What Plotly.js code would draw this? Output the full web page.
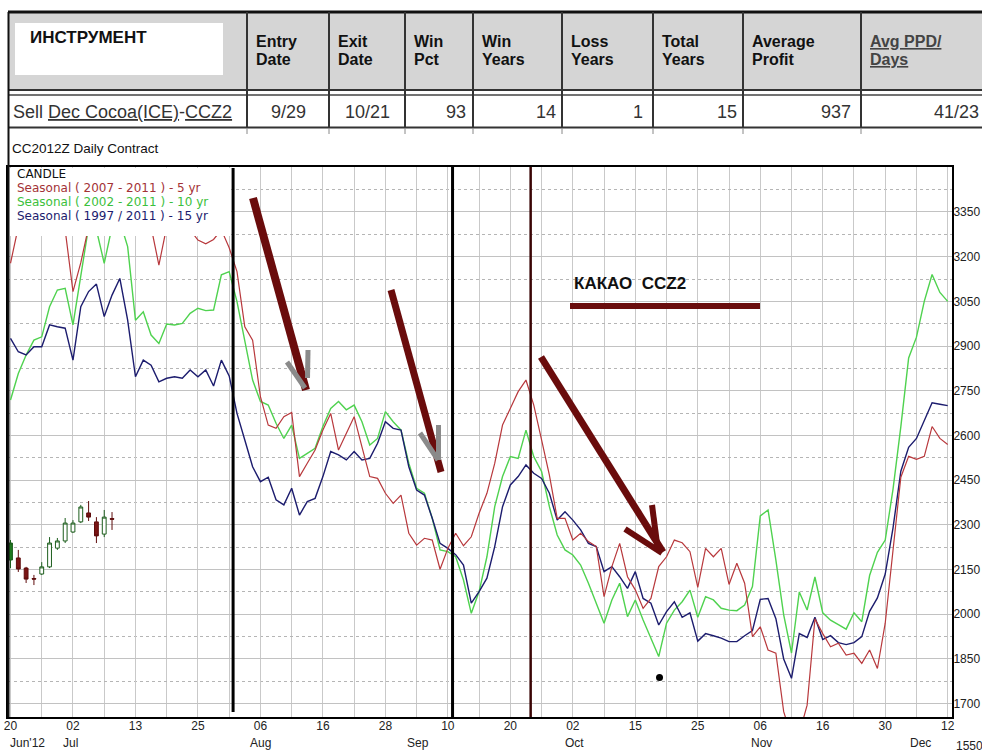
<!DOCTYPE html>
<html>
<head>
<meta charset="utf-8">
<script src="https://cdn.plot.ly/plotly-3.0.1.min.js"></script>
<style>
html,body{margin:0;padding:0;background:#fff;}
#chart{width:982px;height:755px;}
</style>
</head>
<body>
<div id="chart"></div>
<script>
// ---------- DATA ----------
// trading-day index from 20 Jun 2012 (0) to 12 Dec 2012 (120)
const dayIndex = Array.from({length: 121}, (_, k) => k);
const dayTickIdx = [0, 8, 16, 24, 32, 40, 48, 56, 64, 72, 80, 88, 96, 104, 112, 120];
const dayLabels = ["20", "02", "13", "25", "06", "16", "28", "10", "20", "02", "15", "25", "06", "16", "30", "12"];
const monthLabels = ["Jun'12", "Jul", "Aug", "Sep", "Oct", "Nov", "Dec"];
const monthPos = [-0.3, 7.7, 32, 52.2, 72.2, 96.1, 116.5];
const priceTicks = [1700, 1850, 2000, 2150, 2300, 2450, 2600, 2750, 2900, 3050, 3200, 3350];

const seasonal5 = [3178,3300,3330,3340,3330,3310,3300,3290,3083,3180,
  3300,3320,3330,3320,3310,3300,3320,3330,3300,3172,
  3300,3330,3320,3290,3256,3243,3258,3290,3230,3150,
  2965,2920,2730,2635,2624,2663,2677,2462,2507,2551,
  2618,2674,2551,2607,2663,2562,2462,2456,2406,2372,
  2400,2272,2232,2255,2249,2151,2221,2272,2230,2260,
  2339,2406,2506,2635,2691,2747,2786,2702,2585,2467,
  2322,2322,2249,2272,2244,2227,2059,2160,2238,2126,
  2082,2020,2053,2160,2193,2249,2240,2210,2090,2221,
  2193,2221,2100,2171,2104,1925,1958,1880,1869,1673,
  1590,1600,1695,1985,1935,1891,1903,1863,1869,1835,
  1880,1818,1970,2220,2460,2530,2520,2530,2630,2590,2570];

const seasonal10 = [2719,2808,2870,2920,2931,3032,3088,3094,2971,3133,
  3300,3290,3178,3300,3320,3234,2987,3015,2937,2909,
  2974,2971,2976,3010,3027,3019,3021,3139,3150,3049,
  2921,2786,2714,2702,2641,2590,2635,2523,2540,2557,
  2630,2691,2714,2686,2702,2646,2568,2590,2680,2646,
  2618,2507,2423,2406,2322,2216,2210,2193,2115,2003,
  2076,2193,2361,2462,2529,2523,2618,2529,2479,2361,
  2266,2216,2199,2165,2104,2037,1970,2048,2104,1992,
  2048,1981,1919,1858,1970,2014,2042,2081,1990,2059,
  2048,2020,2014,2012,2031,2093,2330,2350,2182,1998,
  1870,2075,2014,2125,2005,1980,1965,1950,2005,1975,
  2130,2208,2249,2420,2630,2860,2930,3050,3140,3080,3050];

const seasonal15 = [2926,2881,2870,2898,2898,2971,2965,2960,2853,3032,
  3083,3108,2999,3071,3127,2987,2797,2853,2836,2780,
  2792,2797,2792,2820,2797,2820,2766,2853,2800,2674,
  2585,2495,2445,2460,2384,2367,2423,2333,2378,2389,
  2462,2546,2535,2518,2546,2518,2523,2574,2646,2624,
  2618,2495,2417,2400,2322,2238,2221,2200,2165,2037,
  2076,2121,2227,2361,2434,2462,2501,2473,2456,2406,
  2316,2344,2316,2283,2238,2227,2143,2160,2126,2087,
  2143,2053,2037,1964,2009,2042,1990,2005,1910,1935,
  1928,1920,1908,1908,1928,1945,2050,2053,1985,1850,
  1785,1935,1922,1990,1915,1928,1905,1898,1905,1925,
  2010,2055,2135,2290,2480,2560,2590,2650,2710,2705,2700];

// daily candles, 20 Jun - 10 Jul 2012
const candleIdx   = [0,1,2,3,4,5,6,7,8,9,10,11,12,13];
const candleOpen  = [2182,2189,2155,2120,2135,2159,2222,2246,2276,2310,2340,2310,2269,2321];
const candleHigh  = [2249,2216,2159,2132,2175,2259,2256,2323,2316,2367,2380,2326,2350,2343];
const candleLow   = [2155,2142,2105,2098,2132,2155,2216,2239,2273,2306,2313,2239,2259,2283];
const candleClose = [2239,2152,2118,2118,2159,2239,2246,2306,2306,2360,2326,2263,2326,2319];

const markerIdx = [83.1];
const markerVal = [1788];

// table
const headerTop    = ["Entry","Exit","Win","Win","Loss","Total","Average","Avg PPD/"];
const headerBottom = ["Date","Date","Pct","Years","Years","Years","Profit","Days"];
const rowValues    = ["9/29","10/21","93","14","1","15","937","41/23"];
const instrumentTitle = "ИНСТРУМЕНТ";
const chartLabel = "CC2012Z Daily Contract";
const seriesNames = ["Seasonal ( 2007 - 2011 ) - 5 yr", "Seasonal ( 2002 - 2011 ) - 10 yr", "Seasonal ( 1997 / 2011 ) - 15 yr"];

// ---------- LAYOUT HELPERS (pixel -> paper) ----------
const L = 8, T = 167, W = 944, H = 550;
const px = p => (p - L) / W;
const py = q => (T + H - q) / H;
const FONT = "Liberation Sans, Arial, sans-serif";
const LFONT = "DejaVu Sans, Liberation Sans, sans-serif";

const RED = "#b8383c", GREEN = "#4fd24f", NAVY = "#1c1c6e";

const traces = [
  {x: dayIndex, y: seasonal10, type: "scatter", mode: "lines", line: {color: GREEN, width: 1.4}, hoverinfo: "skip"},
  {x: dayIndex, y: seasonal15, type: "scatter", mode: "lines", line: {color: NAVY, width: 1.4}, hoverinfo: "skip"},
  {x: dayIndex, y: seasonal5, type: "scatter", mode: "lines", line: {color: RED, width: 1.2}, hoverinfo: "skip"},
  {type: "candlestick", x: candleIdx.slice(0,1), open: candleOpen.slice(0,1), high: candleHigh.slice(0,1),
   low: candleLow.slice(0,1), close: candleClose.slice(0,1),
   increasing: {line: {color: "#1d5e1d", width: 1}, fillcolor: "#1f7a1f"},
   decreasing: {line: {color: "#6b0d0d", width: 1}, fillcolor: "#7a1414"}, hoverinfo: "skip"},
  {type: "candlestick", x: candleIdx.slice(1), open: candleOpen.slice(1), high: candleHigh.slice(1),
   low: candleLow.slice(1), close: candleClose.slice(1),
   increasing: {line: {color: "#1d5e1d", width: 1}, fillcolor: "#ffffff"},
   decreasing: {line: {color: "#5e0c0c", width: 1}, fillcolor: "#7a1414"}, hoverinfo: "skip"},
  {x: markerIdx, y: markerVal, type: "scatter", mode: "markers", marker: {color: "#000", size: 7}, hoverinfo: "skip"}
];

const shapes = [];
const ann = [];

// legend white box covering the top-left of the plot
shapes.push({type: "rect", xref: "paper", yref: "paper", x0: px(9), x1: px(231), y0: py(236), y1: py(168),
  fillcolor: "#ffffff", line: {width: 0}, layer: "above"});

// table background
shapes.push({type: "rect", xref: "paper", yref: "paper", x0: px(8), x1: px(990), y0: py(90), y1: py(12),
  fillcolor: "#d5d5d5", line: {width: 0}, layer: "above"});
shapes.push({type: "rect", xref: "paper", yref: "paper", x0: px(15), x1: px(223), y0: py(75), y1: py(23),
  fillcolor: "#ffffff", line: {width: 0}, layer: "above"});
// table lines
function hline(q, p0, p1, w, c) {
  shapes.push({type: "line", xref: "paper", yref: "paper", x0: px(p0), x1: px(p1), y0: py(q), y1: py(q),
    line: {color: c, width: w}, layer: "above"});
}
function vline(p, q0, q1, w, c) {
  shapes.push({type: "line", xref: "paper", yref: "paper", x0: px(p), x1: px(p), y0: py(q0), y1: py(q1),
    line: {color: c, width: w}, layer: "above"});
}
hline(12, 8, 990, 3, "#111");
hline(90, 8, 990, 2, "#333");
hline(95, 8, 990, 1.5, "#444");
hline(127.5, 8, 990, 2, "#333");
const colEdges = [247, 329, 405, 473, 562, 653, 743, 861];
colEdges.forEach(p => { vline(p, 12, 128, 2, "#333"); vline(p, 128, 134, 1, "#888"); });
vline(8.5, 12, 717, 2, "#111");

// vertical date lines in the plot
shapes.push({type: "line", xref: "x", yref: "paper", x0: 28.5, x1: 28.5, y0: py(712), y1: py(168), line: {color: "#000", width: 3}, layer: "above"});
shapes.push({type: "line", xref: "x", yref: "paper", x0: 56.6, x1: 56.6, y0: 0, y1: 1, line: {color: "#000", width: 3}, layer: "above"});
shapes.push({type: "line", xref: "x", yref: "paper", x0: 66.6, x1: 66.6, y0: 0, y1: 1, line: {color: "#3a0505", width: 2.5}, layer: "above"});

// hand-drawn arrows
function seg(p0, q0, p1, q1, w, c) {
  shapes.push({type: "line", xref: "paper", yref: "paper", x0: px(p0), y0: py(q0), x1: px(p1), y1: py(q1),
    line: {color: c, width: w}, layer: "above"});
}
const MAROON = "#6a0c0c", GREY = "#8a8a8a";
seg(253, 198, 306, 390, 8, MAROON);
seg(287, 362, 305, 388, 5, GREY);
seg(308, 350, 307.5, 378, 5, GREY);
seg(391, 290, 441, 472, 7, MAROON);
seg(420, 433, 438, 460, 5, GREY);
seg(438.5, 425, 438.5, 460, 5, GREY);
seg(541, 357, 663, 552, 7, MAROON);
seg(625, 529, 662, 553, 6, MAROON);
seg(652, 505, 658, 551, 6, MAROON);
seg(570, 306, 760, 306, 6, MAROON);

// ---------- ANNOTATIONS ----------
function txt(t, p, q, size, color, anchor, bold, fam) {
  ann.push({xref: "paper", yref: "paper", x: px(p), y: py(q), text: bold ? "<b>" + t + "</b>" : t,
    showarrow: false, xanchor: anchor || "left", yanchor: "middle",
    font: {family: fam || FONT, size: size, color: color || "#000"}});
}
txt(instrumentTitle, 28, 37, 17, "#111", "left", true);
headerTop.forEach((t, k) => {
  const link = (k === headerTop.length - 1);
  const s = link ? '<span style="text-decoration:underline">' + t + '</span>' : t;
  txt(s, colEdges[k] + 7, 41, 16, link ? "#444" : "#111", "left", true);
});
headerBottom.forEach((t, k) => {
  const link = (k === headerBottom.length - 1);
  const s = link ? '<span style="text-decoration:underline">' + t + '</span>' : t;
  txt(s, colEdges[k] + 7, 59, 16, link ? "#444" : "#111", "left", true);
});
txt('Sell <span style="text-decoration:underline">Dec Cocoa(ICE)</span>-<span style="text-decoration:underline">CCZ2</span>', 11, 112, 18, "#333", "left", false);
const rowRight = [null, null, 468, 558, 645, 739, 853, 981];
rowValues.forEach((t, k) => {
  if (k < 2) txt(t, (colEdges[k] + colEdges[k + 1]) / 2, 112, 18, "#333", "center", false);
  else txt(t, rowRight[k], 112, 18, "#333", "right", false);
});
txt(chartLabel, 10, 148, 13.5, "#111", "left", false);

txt("CANDLE", 15, 174, 12, "#111", "left", false, LFONT);
txt(seriesNames[0], 15, 188, 12, "#a33236", "left", false, LFONT);
txt(seriesNames[1], 15, 202, 12, "#3cc03c", "left", false, LFONT);
txt(seriesNames[2], 15, 216, 12, "#1c1c6e", "left", false, LFONT);

txt("КАКАО  CCZ2", 572, 283, 17, "#111", "left", true);

// month labels under the day ticks
monthLabels.forEach((m, k) => {
  ann.push({xref: "x", yref: "paper", x: monthPos[k], y: py(743), text: m, showarrow: false,
    xanchor: k === 0 ? "left" : "center", yanchor: "middle",
    font: {family: FONT, size: 12, color: "#222"}});
});
txt("1550", 954, 746, 12, "#222", "left", false);

const layout = {
  width: 982, height: 755,
  margin: {l: L, r: 982 - L - W, t: T, b: 755 - T - H, pad: 0},
  paper_bgcolor: "#ffffff", plot_bgcolor: "#ffffff",
  showlegend: false, hovermode: false,
  xaxis: {
    range: [-0.32, 120.55], tickmode: "array", tickvals: dayTickIdx, ticktext: dayLabels,
    showgrid: true, gridcolor: "#c9c9c9", gridwidth: 1,
    minor: {tickmode: "linear", tick0: 0, dtick: 4, showgrid: true, gridcolor: "#c9c9c9", gridwidth: 1},
    zeroline: false, showline: true, linecolor: "#000", linewidth: 2, mirror: true,
    ticks: "", ticklabelstandoff: -3, tickfont: {family: FONT, size: 12, color: "#222"},
    rangeslider: {visible: false}, fixedrange: true
  },
  yaxis: {
    side: "right", range: [1655.2, 3501], tickmode: "array", tickvals: priceTicks,
    showgrid: true, gridcolor: "#c2c2c2", gridwidth: 1,
    minor: {tickmode: "linear", tick0: 1625, dtick: 150, showgrid: true, gridcolor: "#b5b5b5", griddash: "dot", gridwidth: 1},
    zeroline: false, showline: true, linecolor: "#000", linewidth: 2, mirror: true,
    ticks: "", ticklabelstandoff: -3, tickfont: {family: FONT, size: 12, color: "#222"}, fixedrange: true
  },
  shapes: shapes,
  annotations: ann
};

Plotly.newPlot("chart", traces, layout, {staticPlot: true, displayModeBar: false});
</script>
</body>
</html>
